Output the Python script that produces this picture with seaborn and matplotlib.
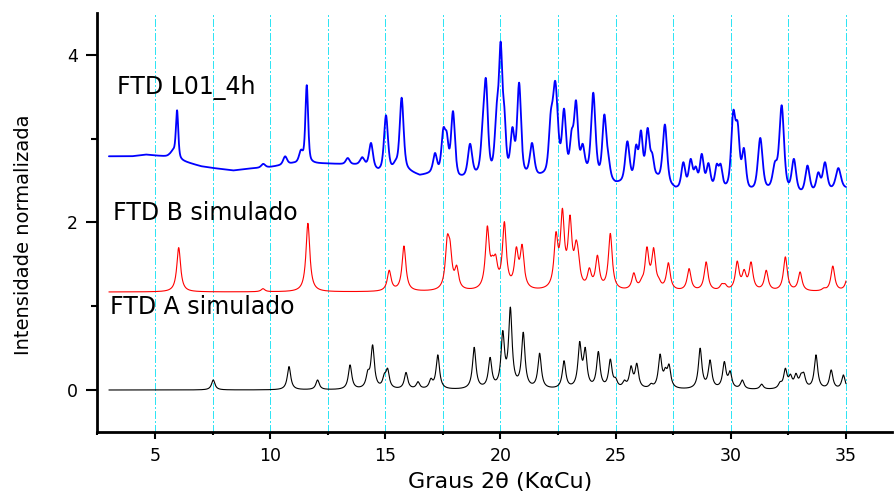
import numpy as np
import pandas as pd
import matplotlib
matplotlib.use("Agg")
import matplotlib.pyplot as plt
from matplotlib import font_manager
from matplotlib.ticker import MultipleLocator
import seaborn as sns

# ---------------------------------------------------------------------------
# Diffraction data: peak positions (2θ, degrees) and peak tops (normalised
# intensity, including the vertical offset of each pattern)
# ---------------------------------------------------------------------------

# FTD A simulado (offset 0)
pos_a = [7.53, 10.82, 12.06, 13.47, 14.24, 14.45, 14.96, 15.10, 15.90, 16.42,
         16.98, 17.28, 18.86, 19.55, 20.10, 20.43, 20.99, 21.70, 22.76, 23.44,
         23.68, 24.25, 24.77, 25.00, 25.38, 25.67, 25.92, 26.54, 26.93, 27.16,
         27.32, 28.67, 29.10, 29.72, 29.97, 30.50, 31.34, 32.14, 32.37, 32.59,
         32.83, 33.05, 33.17, 33.70, 34.36, 34.89]
top_a = [0.12, 0.28, 0.12, 0.30, 0.24, 0.54, 0.20, 0.26, 0.21, 0.10,
         0.14, 0.42, 0.51, 0.39, 0.71, 0.99, 0.69, 0.44, 0.35, 0.58,
         0.51, 0.46, 0.37, 0.15, 0.12, 0.29, 0.32, 0.08, 0.43, 0.27,
         0.31, 0.50, 0.36, 0.34, 0.23, 0.12, 0.07, 0.10, 0.26, 0.19,
         0.20, 0.20, 0.21, 0.42, 0.24, 0.18]
base_a = 0.0

# FTD B simulado (offset 1.17)
pos_b = [6.03, 9.69, 11.64, 15.17, 15.81, 17.69, 17.81, 18.10, 19.43, 19.65,
         19.79, 20.17, 20.69, 20.94, 22.41, 22.69, 23.02, 23.28, 23.37, 23.86,
         24.21, 24.77, 25.79, 26.13, 26.36, 26.65, 26.88, 27.29, 28.19, 28.93,
         29.61, 29.75, 30.28, 30.58, 30.88, 31.54, 32.37, 33.01, 34.04, 34.43,
         35.10]
top_b = [1.70, 1.21, 1.99, 1.43, 1.72, 1.85, 1.79, 1.49, 1.96, 1.61,
         1.62, 2.01, 1.71, 1.74, 1.89, 2.17, 2.09, 1.79, 1.69, 1.46,
         1.61, 1.87, 1.40, 1.34, 1.71, 1.70, 1.34, 1.52, 1.45, 1.53,
         1.27, 1.27, 1.54, 1.44, 1.53, 1.43, 1.59, 1.41, 1.22, 1.48,
         1.42]
base_b = 1.17

# FTD L01_4h (measured pattern)
pos_c = [5.80, 5.96, 9.70, 10.65, 11.34, 11.59, 13.37, 14.00, 14.38, 15.03,
         15.45, 15.71, 17.16, 17.52, 17.67, 17.94, 18.68, 19.23, 19.37, 19.84,
         20.01, 20.17, 20.52, 20.81, 21.37, 22.18, 22.38, 22.76, 23.09, 23.28,
         23.57, 24.03, 24.51, 24.68, 25.51, 25.89, 26.10, 26.39, 26.59, 27.14,
         27.94, 28.26, 28.48, 28.74, 29.03, 29.39, 29.56, 30.11, 30.30, 30.57,
         31.28, 31.92, 32.21, 32.74, 33.33, 33.80, 34.09, 34.67]
top_c = [2.88, 3.34, 2.70, 2.79, 2.87, 3.64, 2.77, 2.78, 2.95, 3.28,
         2.75, 3.49, 2.83, 3.13, 3.08, 3.33, 2.94, 3.26, 3.72, 3.43,
         4.16, 3.38, 3.14, 3.67, 2.95, 3.32, 3.69, 3.36, 3.11, 3.46,
         2.94, 3.55, 3.29, 2.83, 2.97, 2.93, 3.10, 3.13, 2.83, 3.17,
         2.72, 2.76, 2.67, 2.82, 2.71, 2.70, 2.70, 3.34, 3.20, 2.89,
         3.01, 2.73, 3.40, 2.76, 2.68, 2.60, 2.72, 2.65]
fwhm_c = [0.30, 0.12, 0.20, 0.20, 0.20, 0.14, 0.20, 0.22, 0.20, 0.20,
          0.22, 0.20, 0.20, 0.20, 0.18, 0.20, 0.22, 0.20, 0.20, 0.20,
          0.18, 0.16, 0.20, 0.20, 0.22, 0.20, 0.26, 0.20, 0.18, 0.20,
          0.20, 0.22, 0.20, 0.20, 0.22, 0.18, 0.18, 0.20, 0.18, 0.22,
          0.20, 0.20, 0.18, 0.20, 0.20, 0.18, 0.18, 0.22, 0.20, 0.20,
          0.24, 0.24, 0.24, 0.22, 0.22, 0.20, 0.22, 0.26]
# background of the measured pattern
bg_x = [3.0, 4.0, 4.6, 5.3, 5.6, 6.2, 7.0, 7.5, 8.4, 9.0, 10.0, 11.0, 12.5,
        14.0, 14.7, 15.9, 16.5, 17.0, 18.2, 19.0, 21.7, 23.7, 25.0, 26.8,
        27.6, 29.2, 30.8, 31.6, 33.1, 35.0]
bg_y = [2.79, 2.79, 2.81, 2.79, 2.78, 2.73, 2.67, 2.65, 2.62, 2.64, 2.66,
        2.70, 2.70, 2.68, 2.60, 2.61, 2.55, 2.57, 2.50, 2.53, 2.52, 2.55,
        2.44, 2.50, 2.38, 2.38, 2.35, 2.36, 2.33, 2.40]

labels = ["FTD L01_4h", "FTD B simulado", "FTD A simulado"]
label_xy = [(3.35, 3.54), (3.18, 2.03), (3.05, 0.91)]

two_theta = np.arange(3.0, 35.0001, 0.01)


def profile(x, centres, fwhm, eta):
    """Pseudo-Voigt peak shapes, one column per centre (unit height)."""
    hw = np.asarray(fwhm)[None, :] / 2.0
    d = (np.asarray(x)[:, None] - np.asarray(centres)[None, :]) / hw
    return eta / (1.0 + d ** 2) + (1.0 - eta) * np.exp(-np.log(2.0) * d ** 2)


def pattern(x, centres, tops, fwhm, eta, base):
    """Sum of peaks scaled so the summed curve reaches each listed top."""
    centres = np.asarray(centres, float)
    fwhm = np.broadcast_to(np.asarray(fwhm, float), centres.shape)
    b_c = np.interp(centres, *base) if isinstance(base, tuple) else np.full(centres.shape, base)
    target = np.asarray(tops, float) - b_c
    m = profile(centres, centres, fwhm, eta)
    keep = np.ones(len(centres), bool)
    while True:
        sol = np.linalg.solve(m[np.ix_(keep, keep)], target[keep])
        if (sol >= 0).all():
            break
        keep[np.flatnonzero(keep)[np.argmin(sol)]] = False
    amp = np.zeros(len(centres))
    amp[keep] = sol
    b_x = np.interp(x, *base) if isinstance(base, tuple) else base
    return b_x + profile(x, centres, fwhm, eta) @ amp


curve_a = pattern(two_theta, pos_a, top_a, 0.18, 1.0, base_a)
curve_b = pattern(two_theta, pos_b, top_b, 0.20, 1.0, base_b)
curve_c = pattern(two_theta, pos_c, top_c, fwhm_c, 0.5, (bg_x, bg_y))

df = pd.DataFrame({
    "2theta": np.concatenate([two_theta] * 3),
    "I": np.concatenate([curve_c, curve_b, curve_a]),
    "amostra": np.repeat(labels, len(two_theta)),
})

# ---------------------------------------------------------------------------
sns.set_style("ticks")
plt.rcParams.update({
    "font.family": ["DejaVu Sans"],
    "text.color": "black",
    "axes.labelcolor": "black",
    "axes.edgecolor": "black",
    "xtick.color": "black",
    "ytick.color": "black",
})

installed = {f.name for f in font_manager.fontManager.ttflist}
narrow = "Liberation Sans Narrow" if "Liberation Sans Narrow" in installed else None

fig = plt.figure(figsize=(8.95, 4.96), dpi=100)
ax = fig.add_axes([97.4 / 895, 64.1 / 496, 794.6 / 895, 418.8 / 496])

colors = {"FTD L01_4h": "#0000FF", "FTD B simulado": "#FF0000",
          "FTD A simulado": "#000000"}
widths = {"FTD L01_4h": 1.3, "FTD B simulado": 0.8, "FTD A simulado": 0.8}
for name in labels:
    sns.lineplot(data=df[df["amostra"] == name], x="2theta", y="I",
                 color=colors[name], linewidth=widths[name], estimator=None,
                 ax=ax, zorder=3)

ax.set_xlim(2.5, 37.0)
ax.set_ylim(-0.5, 4.5)
ax.xaxis.set_major_locator(MultipleLocator(5))
ax.xaxis.set_minor_locator(MultipleLocator(2.5))
ax.yaxis.set_major_locator(MultipleLocator(2))
ax.yaxis.set_minor_locator(MultipleLocator(1))

ax.grid(True, which="both", axis="x", color="#30E4F4", linewidth=0.8,
        linestyle=(0, (7, 2.5, 1.2, 2.5)), antialiased=False, zorder=0)
ax.grid(False, axis="y")

for side in ("top", "right"):
    ax.spines[side].set_visible(False)
for side in ("left", "bottom"):
    ax.spines[side].set_linewidth(2.0)

ax.tick_params(axis="y", which="major", direction="out", length=8, width=1.5,
               labelsize=12.5, pad=6)
ax.tick_params(axis="y", which="minor", direction="out", length=4.5, width=1.5)
ax.tick_params(axis="x", which="major", direction="out", length=5, width=1.5,
               labelsize=12.5, pad=6)
ax.tick_params(axis="x", which="minor", direction="out", length=2.5, width=1.5)

ax.set_xlabel("Graus 2θ (KαCu)", fontsize=16, va="top")
ax.xaxis.set_label_coords(0.5067, -0.095)
if narrow:
    ax.set_ylabel("Intensidade normalizada", fontsize=17.5, family=narrow,
                  va="center")
else:
    ax.set_ylabel("Intensidade normalizada", fontsize=14, va="center")
ax.yaxis.set_label_coords(-0.0936, 0.47)

for text, (tx, ty) in zip(labels, label_xy):
    ax.text(tx, ty, text, fontsize=17, va="baseline", ha="left", color="black")

fig.savefig("out.png", dpi=100)
